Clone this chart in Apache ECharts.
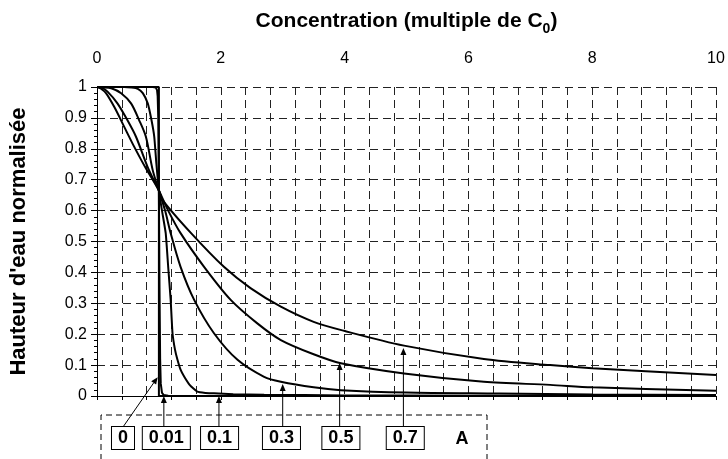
<!DOCTYPE html>
<html><head><meta charset="utf-8">
<script src="https://cdn.jsdelivr.net/npm/echarts@6/dist/echarts.min.js"></script>
<style>html,body{margin:0;padding:0;background:#fff}#c{width:728px;height:459px}</style>
</head><body><div id="c"></div>
<script>
// ---- tick labels ----
const xTickLabels = ['0', '2', '4', '6', '8', '10'];
const yTickLabels = ['0', '0.1', '0.2', '0.3', '0.4', '0.5', '0.6', '0.7', '0.8', '0.9', '1'];

// ---- curves (A = 0, 0.01, 0.1, 0.3, 0.5, 0.7) ----
const curveNames = ['0', '0.01', '0.1', '0.3', '0.5', '0.7'];
const xA0 = [0, 1, 1, 10];
const yA0 = [1, 1, 0, 0];
const xA001 = [0, 0.9, 0.95, 0.97, 0.98, 0.99, 1.0, 1.01, 1.02, 1.03, 1.05, 1.08, 1.15, 10];
const yA001 = [1, 1, 0.998, 0.99, 0.97, 0.9, 0.665, 0.35, 0.12, 0.04, 0.01, 0.003, 0.001, 0];
const xA01 = [0, 0.3, 0.44, 0.56, 0.66, 0.74, 0.82, 0.88, 0.925, 0.96, 1.0, 1.05, 1.11, 1.15, 1.19, 1.22, 1.26, 1.30, 1.35, 1.41, 1.5, 1.62, 1.75, 1.89, 2.2, 2.7, 4, 6, 10];
const yA01 = [1, 1, 1, 0.998, 0.994, 0.98, 0.947, 0.893, 0.839, 0.75, 0.665, 0.6, 0.527, 0.418, 0.311, 0.203, 0.15, 0.117, 0.085, 0.062, 0.035, 0.014, 0.01, 0.009, 0.006, 0.004, 0.002, 0.001, 0.0005];
const xA03 = [0, 0.1, 0.23, 0.39, 0.55, 0.68, 0.79, 0.90, 1.0, 1.1, 1.19, 1.35, 1.57, 1.89, 2.27, 2.70, 2.97, 3.5, 3.94, 5, 6.5, 8, 10];
const yA03 = [1, 0.999, 0.996, 0.98, 0.947, 0.893, 0.839, 0.731, 0.665, 0.6, 0.527, 0.418, 0.311, 0.203, 0.117, 0.062, 0.046, 0.028, 0.019, 0.011, 0.008, 0.005, 0.003];
const xA05 = [0, 0.08, 0.17, 0.33, 0.49, 0.63, 0.82, 1.0, 1.15, 1.35, 1.73, 2.16, 2.59, 2.97, 3.5, 3.94, 4.96, 6.25, 7.32, 8, 10];
const yA05 = [1, 0.997, 0.985, 0.947, 0.893, 0.839, 0.74, 0.665, 0.6, 0.527, 0.418, 0.311, 0.235, 0.181, 0.135, 0.106, 0.073, 0.046, 0.036, 0.028, 0.017];
const xA07 = [0, 0.06, 0.145, 0.28, 0.44, 0.60, 0.78, 1.0, 1.06, 1.52, 2.05, 2.48, 2.97, 3.5, 3.99, 4.96, 6.25, 7.32, 8, 10];
const yA07 = [1, 0.995, 0.98, 0.935, 0.871, 0.807, 0.74, 0.665, 0.634, 0.527, 0.418, 0.349, 0.289, 0.24, 0.211, 0.163, 0.120, 0.100, 0.090, 0.068];

// ---- annotations: label and the curve point each arrow points to ----
const annotLabels = ['0', '0.01', '0.1', '0.3', '0.5', '0.7'];
const annotTipX = [0.98, 1.08, 1.97, 3.0, 3.92, 4.95];
const annotTipY = [0.061, 0, 0, 0.039, 0.107, 0.155];
const legendTitle = 'A';

// ---- layout (not data) ----
const FONT = "'Liberation Sans', Arial, sans-serif";
const BOX_X = [0.42, 1.12, 1.98, 2.98, 3.94, 4.98]; // box centres, in x-axis units

const curves = [[xA0, yA0], [xA001, yA001], [xA01, yA01], [xA03, yA03], [xA05, yA05], [xA07, yA07]];
const smoothFor = [false, false, 0.15, 0.3, 0.3, 0.3];

const chart = echarts.init(document.getElementById('c'), null, {renderer: 'canvas'});
const dash = [8, 5];

const series = curves.map(([xs, ys], k) => ({
  name: curveNames[k],
  type: 'line',
  xAxisIndex: 0, yAxisIndex: 0,
  data: xs.map((x, i) => [x, ys[i]]),
  showSymbol: false,
  symbol: 'none',
  smooth: smoothFor[k],
  lineStyle: {color: '#000', width: 2},
  clip: true,
  z: 5
}));

series.push({
  type: 'custom',
  xAxisIndex: 0, yAxisIndex: 0,
  clip: false,
  z: 6,
  data: annotTipX.map((x, i) => [x, annotTipY[i], i]),
  renderItem: function (params, api) {
    const i = api.value(2);
    const tip = api.coord([api.value(0), api.value(1)]);
    const base = api.coord([0, 0]);
    const bx = api.coord([BOX_X[i], 0])[0];
    const boxTop = base[1] + 31;
    const boxMid = boxTop + 11;
    const sx = Math.abs(bx - tip[0]) < 5 ? tip[0] : bx;
    const dx = tip[0] - sx, dy = tip[1] - boxTop;
    const len = Math.sqrt(dx * dx + dy * dy);
    const ux = dx / len, uy = dy / len;
    const L = 7, W = 3;
    const bxp = tip[0] - ux * L, byp = tip[1] - uy * L;
    return {
      type: 'group',
      children: [
        {type: 'line', shape: {x1: sx, y1: boxTop, x2: bxp, y2: byp}, style: {stroke: '#000', lineWidth: 1}},
        {type: 'polygon', shape: {points: [[tip[0], tip[1]], [bxp - uy * W, byp + ux * W], [bxp + uy * W, byp - ux * W]]}, style: {fill: '#000'}},
        {type: 'text', x: bx, y: boxMid, style: {
          text: annotLabels[i], font: 'bold 18px ' + FONT, fill: '#000',
          align: 'center', verticalAlign: 'middle', lineHeight: 18,
          padding: [2, 6, 2, 6], borderColor: '#000', borderWidth: 1, backgroundColor: '#fff'
        }}
      ]
    };
  }
});

chart.setOption({
  animation: false,
  backgroundColor: '#fff',
  grid: {left: 96, right: 12, top: 87, bottom: 63},
  xAxis: [
    {
      type: 'value', position: 'top', min: 0, max: 10, interval: 2,
      name: '{a|Concentration (multiple de C}{b|0}{a|)}',
      nameLocation: 'middle', nameGap: 55,
      nameTextStyle: {rich: {
        a: {fontFamily: FONT, fontWeight: 'bold', fontSize: 21, color: '#000', lineHeight: 25, verticalAlign: 'bottom'},
        b: {fontFamily: FONT, fontWeight: 'bold', fontSize: 14, color: '#000', lineHeight: 25, verticalAlign: 'bottom', padding: [0, 0, -4, 0]}
      }},
      axisLine: {show: true, lineStyle: {color: '#000', width: 1}},
      axisTick: {show: false},
      axisLabel: {fontFamily: FONT, fontSize: 16, color: '#000', margin: 20,
        formatter: v => xTickLabels[Math.round(v / 2)]},
      splitLine: {show: false}
    },
    {
      type: 'value', position: 'bottom', min: 0, max: 10, interval: 0.4,
      axisLine: {show: true, onZero: false, lineStyle: {color: '#000', width: 1}},
      axisTick: {show: true, length: 4, lineStyle: {color: '#000'}},
      axisLabel: {show: false},
      splitLine: {show: true, lineStyle: {color: '#222', width: 1, type: dash}}
    }
  ],
  yAxis: [
    {
      type: 'value', position: 'left', min: 0, max: 1, interval: 0.1,
      name: "Hauteur d'eau normalisée",
      nameLocation: 'middle', nameGap: 67, nameRotate: 90,
      nameTextStyle: {fontFamily: FONT, fontWeight: 'bold', fontSize: 22, color: '#000'},
      axisLine: {show: true, lineStyle: {color: '#000', width: 1}},
      axisTick: {show: true, length: 6, lineStyle: {color: '#000'}},
      minorTick: {show: true, splitNumber: 5, length: 3, lineStyle: {color: '#000'}},
      axisLabel: {fontFamily: FONT, fontSize: 16, color: '#000', margin: 10,
        formatter: v => yTickLabels[Math.round(v * 10)]},
      splitLine: {show: true, lineStyle: {color: '#222', width: 1, type: dash}}
    },
    {
      type: 'value', position: 'right', min: 0, max: 1,
      axisLine: {show: true, lineStyle: {color: '#000', width: 1}},
      axisTick: {show: false}, axisLabel: {show: false}, splitLine: {show: false}
    }
  ],
  graphic: [
    {type: 'polyline', shape: {points: [[101, 470], [101, 415], [487, 415], [487, 470]]},
      style: {stroke: '#000', lineWidth: 1, fill: null, lineDash: [6, 4]}, z: 10},
    {type: 'text', x: 462, y: 439, style: {text: legendTitle, font: 'bold 18px ' + FONT, fill: '#000', align: 'center', verticalAlign: 'middle'}, z: 10}
  ],
  series: series
});
</script>
</body></html>
